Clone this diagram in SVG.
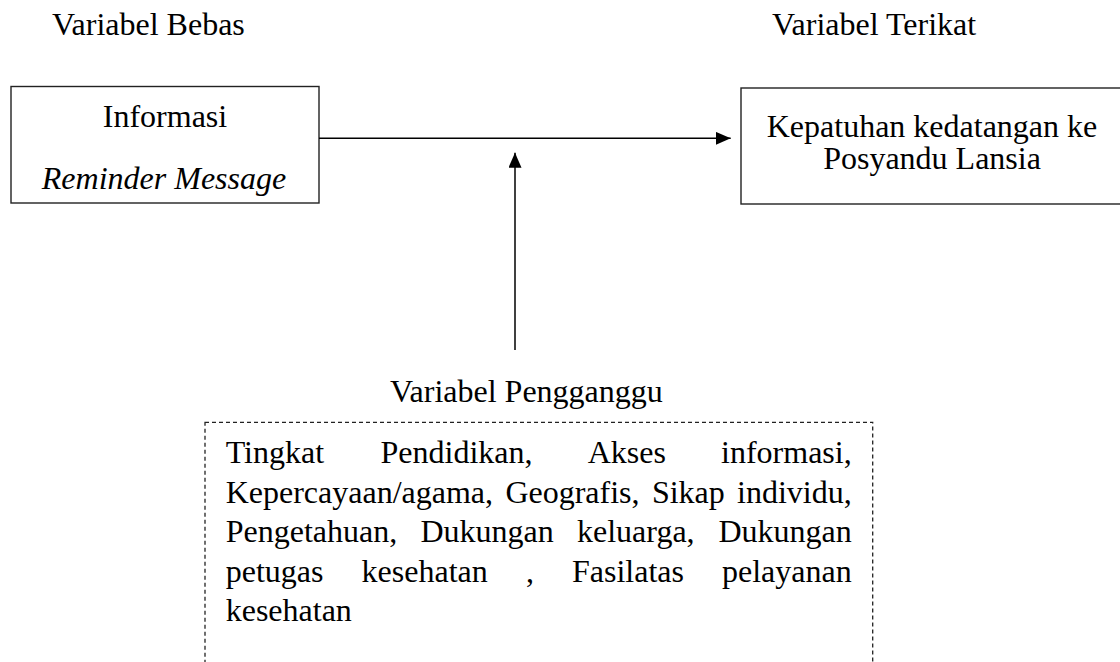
<svg xmlns="http://www.w3.org/2000/svg" width="1120" height="662" viewBox="0 0 1120 662">
<style>
text{font-family:"Liberation Serif","Times New Roman",serif;font-size:32px;fill:#000}
.box{fill:#fff;stroke:#222;stroke-width:1.4}
.dash{fill:none;stroke:#222;stroke-width:1.3;stroke-dasharray:4 3}
.conn{stroke:#000;stroke-width:1.5;fill:none}
</style>
<defs>
<marker id="ah" markerUnits="userSpaceOnUse" markerWidth="16" markerHeight="14" refX="15" refY="6.5" orient="auto">
<path d="M0,0 L15,6.5 L0,13 z" fill="#000"/>
</marker>
</defs>
<rect width="1120" height="662" fill="#fff"/>
<g id="label-bebas"><text x="52" y="35">Variabel Bebas</text></g>
<g id="label-terikat"><text x="772" y="35">Variabel Terikat</text></g>
<g id="node-informasi">
<rect class="box" x="11" y="86.5" width="308" height="116.5"/>
<text x="165" y="127" text-anchor="middle">Informasi</text>
<text x="164" y="188.5" text-anchor="middle" font-style="italic">Reminder Message</text>
</g>
<g id="node-kepatuhan">
<rect class="box" x="741" y="88" width="400" height="116"/>
<text x="932" y="137" text-anchor="middle">Kepatuhan kedatangan ke</text>
<text x="932" y="168.5" text-anchor="middle">Posyandu Lansia</text>
</g>
<g id="connectors">
<line class="conn" x1="319" y1="138.3" x2="730.7" y2="138.3" marker-end="url(#ah)"/>
<line class="conn" x1="515" y1="350" x2="515" y2="152.7" marker-end="url(#ah)"/>
</g>
<g id="node-pengganggu">
<text x="390" y="401.7">Variabel Pengganggu</text>
<rect class="dash" x="205" y="422.3" width="667.7" height="300"/>
<text y="463.3"><tspan x="225.7">Tingkat</tspan><tspan x="380.5">Pendidikan,</tspan><tspan x="587.7">Akses</tspan><tspan x="851.7" text-anchor="end">informasi,</tspan></text>
<text y="502.5"><tspan x="225.7">Kepercayaan/agama,</tspan><tspan x="505.4">Geografis,</tspan><tspan x="651.9">Sikap</tspan><tspan x="851.7" text-anchor="end">individu,</tspan></text>
<text y="542"><tspan x="225.7">Pengetahuan,</tspan><tspan x="420.4">Dukungan</tspan><tspan x="577">keluarga,</tspan><tspan x="851.7" text-anchor="end">Dukungan</tspan></text>
<text y="581.5"><tspan x="225.7">petugas</tspan><tspan x="361.6">kesehatan</tspan><tspan x="525.9">,</tspan><tspan x="572">Fasilatas</tspan><tspan x="851.7" text-anchor="end">pelayanan</tspan></text>
<text x="225.7" y="620.5">kesehatan</text>
</g>
</svg>
